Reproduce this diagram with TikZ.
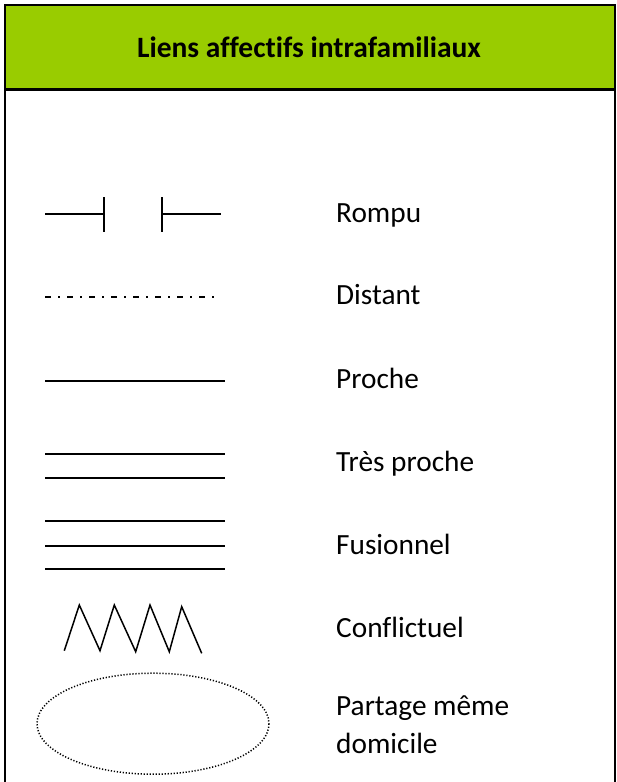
\documentclass[tikz,border=0pt]{standalone}
\usepackage{fontspec}
\setmainfont{Carlito}[Ligatures=NoCommon]
\definecolor{hdrgreen}{HTML}{99CC00}
\begin{document}
\begin{tikzpicture}[x=1pt,y=-1pt,
  lbl/.style={anchor=base west,inner sep=0pt,font=\fontsize{29.3}{35}\selectfont},
  sym/.style={line width=1.5pt},
  frame/.style={line width=2.2pt}]
\useasboundingbox (0,0) rectangle (616,782);
% header
\fill[hdrgreen] (5,5) rectangle (615,89.5);
\draw[frame] (5,792) -- (5,5) -- (615,5) -- (615,792);
\draw[frame] (5,89.5) -- (615,89.5);
\node[inner sep=0pt,font=\fontsize{29.5}{35}\selectfont\bfseries] (title) at (309,47) {Liens affectifs intrafamiliaux};
% Rompu
\draw[sym] (45,214) -- (104,214);
\draw[sym] (104,197) -- (104,232);
\draw[sym] (162,197) -- (162,232);
\draw[sym] (162,214) -- (221,214);
\node[lbl] (rompu) at (336,222) {Rompu};
% Distant
\draw[line width=1.3pt,dash pattern=on 6pt off 7pt on 2pt off 7pt] (45,297) -- (217,297);
\node[lbl] (distant) at (336,304) {Distant};
% Proche
\draw[sym] (45,381) -- (225,381);
\node[lbl] (proche) at (336,388) {Proche};
% Tres proche
\draw[sym] (45,454) -- (225,454);
\draw[sym] (45,478) -- (225,478);
\node[lbl] (tresproche) at (336,471) {Très proche};
% Fusionnel
\draw[sym] (45,521) -- (225,521);
\draw[sym] (45,546) -- (225,546);
\draw[sym] (45,569) -- (225,569);
\node[lbl] (fusionnel) at (336,554) {Fusionnel};
% Conflictuel
\draw[sym,line join=miter] (64.3,650.7) -- (79.3,605) -- (100,650.7) -- (114.3,605) -- (135.7,651.7) -- (150,605) -- (169.3,651.7) -- (181.7,606.7) -- (201.7,653.3);
\node[lbl] (conflictuel) at (336,637) {Conflictuel};
% Partage meme domicile
\draw[line width=1.5pt,dash pattern=on 1.2pt off 1.8pt] (153,723.7) ellipse [x radius=116, y radius=50.5];
\node[lbl] (partage) at (336,715) {Partage même};
\node[lbl] (domicile) at (336,753) {domicile};
\end{tikzpicture}
\end{document}
